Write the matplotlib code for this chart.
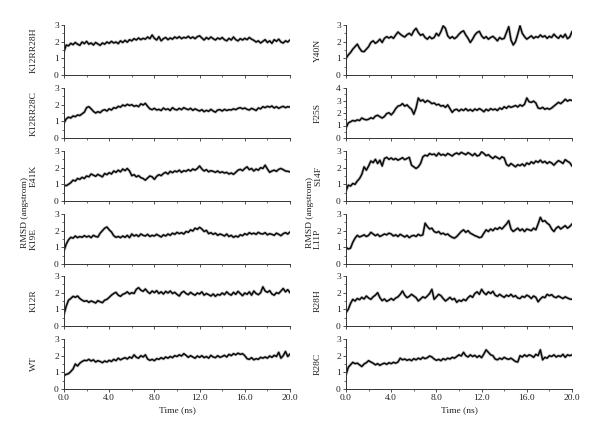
import numpy as np
import matplotlib
matplotlib.use("Agg")
import matplotlib.pyplot as plt
from matplotlib.ticker import MultipleLocator

plt.rcParams['font.family'] = ['Liberation Serif', 'DejaVu Serif']

# time axis, 0.2 ns sampling
time_ns = np.arange(101) * 0.2

# ---- left column ----
k12rr28h = [1.40, 1.80, 1.75, 1.90, 1.82, 1.95, 1.85, 1.78, 1.98, 1.88,
            2.02, 1.85, 1.92, 1.80, 1.95, 1.86, 1.78, 1.92, 1.85, 1.98,
            1.90, 2.02, 1.92, 1.98, 1.88, 2.05, 1.95, 2.08, 1.97, 2.12,
            2.05, 2.18, 2.10, 2.22, 2.12, 2.20, 2.15, 2.28, 2.18, 2.40,
            2.20, 2.10, 2.30, 2.05, 2.18, 2.25, 2.12, 2.22, 2.15, 2.28,
            2.20, 2.30, 2.18, 2.26, 2.22, 2.32, 2.20, 2.28, 2.18, 2.30,
            2.35, 2.22, 2.10, 2.25, 2.15, 2.28, 2.18, 2.10, 2.22, 2.15,
            2.25, 2.12, 2.05, 2.20, 2.10, 2.28, 2.12, 2.05, 2.18, 2.10,
            2.20, 2.12, 2.25, 2.15, 2.08, 1.98, 2.05, 1.92, 2.02, 2.12,
            1.95, 2.05, 1.90, 2.12, 2.02, 2.15, 1.98, 1.92, 2.05, 1.98,
            2.10]

k12rr28c = [0.90, 1.15, 1.25, 1.20, 1.32, 1.28, 1.38, 1.35, 1.45, 1.55,
            1.82, 1.88, 1.75, 1.60, 1.50, 1.58, 1.52, 1.65, 1.70, 1.62,
            1.75, 1.68, 1.82, 1.78, 1.90, 1.85, 1.98, 1.92, 2.02, 1.95,
            2.00, 1.90, 1.95, 1.88, 2.05, 1.98, 2.08, 1.90, 1.75, 1.70,
            1.78, 1.68, 1.72, 1.65, 1.80, 1.70, 1.75, 1.65, 1.82, 1.72,
            1.68, 1.78, 1.70, 1.82, 1.75, 1.70, 1.78, 1.66, 1.75, 1.68,
            1.62, 1.70, 1.58, 1.66, 1.60, 1.72, 1.62, 1.55, 1.68, 1.70,
            1.62, 1.72, 1.65, 1.70, 1.68, 1.75, 1.70, 1.78, 1.82, 1.75,
            1.80, 1.72, 1.68, 1.78, 1.72, 1.65, 1.80, 1.75, 1.88, 1.82,
            1.90, 1.85, 1.92, 1.80, 1.88, 1.78, 1.85, 1.90, 1.82, 1.88,
            1.85]

e41k = [0.95, 0.92, 1.00, 1.10, 1.25, 1.20, 1.35, 1.30, 1.42, 1.35,
        1.50, 1.45, 1.62, 1.55, 1.48, 1.60, 1.52, 1.45, 1.65, 1.58,
        1.70, 1.62, 1.80, 1.72, 1.85, 1.75, 1.92, 1.82, 1.95, 1.80,
        1.52, 1.58, 1.45, 1.52, 1.40, 1.35, 1.25, 1.38, 1.50, 1.45,
        1.30, 1.48, 1.58, 1.52, 1.65, 1.72, 1.62, 1.78, 1.70, 1.80,
        1.75, 1.85, 1.72, 1.82, 1.78, 1.88, 1.80, 1.92, 1.85, 1.95,
        2.10, 1.92, 1.80, 1.88, 1.75, 1.82, 1.78, 1.72, 1.80, 1.70,
        1.75, 1.68, 1.72, 1.62, 1.68, 1.60, 1.72, 1.85, 1.90, 1.82,
        1.95, 2.05, 1.88, 1.95, 1.80, 1.92, 1.85, 2.00, 1.95, 2.15,
        1.92, 1.72, 1.80, 1.85, 1.78, 1.90, 1.95, 1.88, 1.80, 1.78,
        1.75]

k19e = [0.80, 1.20, 1.45, 1.60, 1.55, 1.68, 1.58, 1.65, 1.60, 1.70,
        1.62, 1.68, 1.58, 1.72, 1.65, 1.62, 1.85, 2.00, 2.15, 2.22,
        2.05, 1.92, 1.70, 1.60, 1.65, 1.58, 1.68, 1.60, 1.72, 1.58,
        1.80, 1.68, 1.75, 1.65, 1.80, 1.72, 1.68, 1.78, 1.65, 1.72,
        1.68, 1.78, 1.70, 1.62, 1.75, 1.68, 1.80, 1.72, 1.85, 1.78,
        1.90, 1.82, 1.88, 1.80, 1.95, 1.90, 2.05, 1.98, 2.15, 2.08,
        2.20, 2.10, 1.95, 2.02, 1.82, 1.88, 1.78, 1.85, 1.72, 1.80,
        1.75, 1.68, 1.80, 1.65, 1.72, 1.60, 1.68, 1.62, 1.75, 1.70,
        1.82, 1.75, 1.88, 1.80, 1.85, 1.78, 1.90, 1.82, 1.80, 1.88,
        1.75, 1.82, 1.78, 1.72, 1.85, 1.78, 1.70, 1.82, 1.88, 1.80,
        1.92]

k12r = [0.70, 1.20, 1.55, 1.65, 1.78, 1.72, 1.80, 1.65, 1.55, 1.48,
        1.52, 1.42, 1.50, 1.45, 1.38, 1.52, 1.45, 1.40, 1.55, 1.60,
        1.72, 1.85, 1.95, 2.02, 1.85, 1.78, 1.90, 1.95, 2.05, 1.92,
        2.00, 1.95, 2.20, 2.30, 2.15, 2.08, 2.22, 2.05, 1.95, 2.10,
        2.00, 2.12, 1.95, 2.05, 1.92, 2.08, 1.98, 2.10, 1.95, 2.02,
        1.90, 1.80, 2.00, 2.08, 1.95, 1.88, 2.02, 1.92, 1.85, 1.98,
        1.92, 2.05, 1.85, 1.95, 1.88, 1.80, 1.92, 1.78, 1.90, 1.85,
        1.98, 1.88, 2.05, 1.92, 1.85, 2.02, 1.90, 2.08, 1.95, 1.82,
        1.98, 1.90, 2.05, 1.85, 2.10, 1.95, 1.88, 2.00, 2.35, 2.10,
        2.02, 2.12, 1.92, 1.85, 2.00, 1.95, 2.10, 2.25, 2.05, 2.18,
        2.00]

wt = [0.80, 0.88, 0.92, 1.05, 1.20, 1.50, 1.38, 1.55, 1.65, 1.72,
      1.70, 1.78, 1.68, 1.75, 1.62, 1.70, 1.65, 1.58, 1.68, 1.62,
      1.72, 1.65, 1.78, 1.70, 1.85, 1.75, 1.82, 1.88, 1.80, 1.92,
      1.85, 2.05, 1.90, 1.85, 2.00, 1.92, 2.05, 1.80, 1.72, 1.78,
      1.70, 1.82, 1.78, 1.88, 1.80, 1.92, 1.85, 1.95, 1.88, 2.00,
      1.95, 2.05, 1.98, 2.12, 2.02, 1.90, 2.00, 1.92, 1.85, 1.98,
      1.90, 2.00, 1.88, 1.95, 1.85, 2.02, 1.92, 1.88, 2.00, 1.90,
      1.95, 2.02, 1.92, 2.08, 2.00, 2.12, 2.05, 2.15, 2.08, 2.12,
      2.00, 1.82, 1.78, 1.88, 1.75, 1.82, 1.78, 1.90, 1.85, 1.92,
      1.85, 1.98, 1.90, 2.02, 1.95, 2.20, 1.85, 2.00, 2.25, 1.95,
      2.10]

# ---- right column ----
y40n = [1.00, 1.20, 1.35, 1.55, 1.70, 1.85, 1.60, 1.42, 1.40, 1.55,
        1.70, 1.95, 2.05, 1.90, 2.00, 2.15, 1.95, 2.20, 2.30, 2.22,
        2.30, 2.20, 2.40, 2.58, 2.45, 2.35, 2.28, 2.42, 2.50, 2.38,
        2.65, 2.80, 2.55, 2.38, 2.45, 2.25, 2.15, 2.30, 2.18, 2.25,
        2.50, 2.35, 2.60, 2.95, 2.80, 2.35, 2.20, 2.30, 2.18, 2.28,
        2.45, 2.58, 2.65, 2.40, 2.20, 1.95, 2.15, 2.40, 2.55, 2.62,
        2.35, 2.20, 2.30, 2.15, 2.25, 2.32, 2.20, 2.05, 2.25, 2.15,
        2.20, 2.55, 2.90, 2.10, 1.80, 2.00, 2.45, 2.95, 2.50, 2.30,
        2.15, 2.25, 2.35, 2.20, 2.30, 2.25, 2.40, 2.28, 2.35, 2.20,
        2.32, 2.25, 2.45, 2.30, 2.20, 2.38, 2.25, 2.45, 2.18, 2.28,
        2.60]

f25s = [0.80, 1.20, 1.30, 1.40, 1.35, 1.45, 1.40, 1.60, 1.50, 1.45,
        1.50, 1.62, 1.55, 1.75, 1.82, 1.70, 1.60, 1.72, 1.95, 2.02,
        1.85, 2.05, 2.35, 2.55, 2.60, 2.75, 2.55, 2.65, 2.45, 2.30,
        1.90, 2.40, 3.20, 2.95, 3.05, 2.85, 3.00, 2.90, 2.75, 2.80,
        2.65, 2.70, 2.55, 2.60, 2.45, 2.65, 2.35, 2.05, 2.25, 2.30,
        2.15, 2.30, 2.20, 2.35, 2.18, 2.28, 2.15, 2.32, 2.22, 2.35,
        2.25, 2.10, 2.30, 2.18, 2.35, 2.25, 2.32, 2.20, 2.40, 2.30,
        2.50, 2.38, 2.55, 2.45, 2.52, 2.60, 2.48, 2.65, 2.55, 2.70,
        3.20, 2.90, 2.85, 2.95, 2.80, 2.40, 2.35, 2.45, 2.30, 2.38,
        2.30, 2.40, 2.55, 2.70, 2.85, 2.75, 2.90, 3.10, 2.95, 3.05,
        3.00]

s14f = [0.60, 0.95, 0.90, 1.05, 1.00, 1.20, 1.35, 1.60, 2.05, 1.85,
        2.10, 2.40, 2.30, 2.50, 2.25, 2.45, 2.10, 2.55, 2.62, 2.50,
        2.58, 2.48, 2.55, 2.45, 2.52, 2.60, 2.48, 2.55, 2.62, 2.15,
        2.05, 1.95, 2.05, 2.25, 2.65, 2.75, 2.70, 2.85, 2.78, 2.82,
        2.70, 2.88, 2.75, 2.80, 2.72, 2.85, 2.78, 2.70, 2.82, 2.88,
        2.80, 2.92, 2.85, 2.78, 2.90, 2.82, 2.72, 2.85, 2.70, 2.75,
        2.95, 2.85, 2.72, 2.78, 2.65, 2.55, 2.68, 2.60, 2.52, 2.65,
        2.58, 2.20, 2.10, 2.25, 2.15, 2.05, 2.18, 2.12, 2.22, 2.10,
        2.28, 2.20, 2.35, 2.25, 2.40, 2.32, 2.45, 2.30, 2.38, 2.25,
        2.35, 2.28, 2.15, 2.30, 2.42, 2.35, 2.25, 2.48, 2.38, 2.30,
        2.10]

l11p = [1.00, 0.90, 0.95, 1.30, 1.55, 1.72, 1.62, 1.68, 1.75, 1.65,
        1.72, 1.90, 1.80, 1.70, 1.78, 1.65, 1.72, 1.80, 1.75, 1.85,
        1.80, 1.68, 1.75, 1.65, 1.78, 1.70, 1.62, 1.72, 1.58, 1.68,
        1.72, 1.65, 1.78, 1.70, 1.75, 2.45, 2.25, 2.10, 2.15, 1.95,
        1.88, 1.95, 1.80, 1.85, 1.75, 1.80, 1.68, 1.60, 1.55, 1.65,
        1.80, 1.95, 2.05, 1.90, 2.00, 1.85, 1.78, 1.70, 1.65, 1.58,
        1.62, 1.85, 2.05, 1.95, 2.10, 2.00, 2.15, 2.08, 2.20, 2.10,
        2.25, 2.40, 2.60, 2.10, 1.95, 2.05, 2.15, 2.00, 2.10, 1.95,
        2.10, 2.05, 2.00, 2.15, 2.05, 2.40, 2.80, 2.55, 2.60, 2.45,
        2.35, 2.10, 1.95, 2.15, 2.25, 2.10, 2.20, 2.30, 2.15, 2.25,
        2.40]

r28h = [0.80, 1.00, 1.35, 1.60, 1.50, 1.65, 1.58, 1.72, 1.62, 1.80,
        1.68, 1.60, 1.75, 1.85, 2.00, 1.70, 1.52, 1.62, 1.48, 1.55,
        1.65, 1.55, 1.68, 1.75, 1.90, 2.10, 1.85, 1.70, 1.78, 1.90,
        1.80, 1.70, 1.50, 1.62, 1.75, 1.68, 1.80, 1.95, 2.20, 1.60,
        1.75, 1.90, 1.82, 1.65, 1.50, 1.60, 1.72, 1.58, 1.65, 1.42,
        1.55, 1.48, 1.60, 1.52, 1.70, 1.82, 1.72, 1.95, 2.05, 1.90,
        2.20, 2.00, 1.88, 2.05, 1.95, 2.08, 1.85, 1.78, 1.90, 1.80,
        1.72, 1.85, 1.78, 1.90, 1.75, 1.82, 1.68, 1.65, 1.78, 1.72,
        1.85, 1.78, 1.65, 1.80, 1.72, 1.45, 1.62, 1.75, 1.70, 1.90,
        1.82, 1.88, 1.75, 1.70, 1.80, 1.72, 1.65, 1.75, 1.68, 1.62,
        1.60]

r28c = [0.85, 1.30, 1.45, 1.60, 1.52, 1.55, 1.45, 1.35, 1.50, 1.58,
        1.70, 1.62, 1.55, 1.45, 1.52, 1.42, 1.50, 1.55, 1.48, 1.58,
        1.52, 1.60, 1.55, 1.62, 1.85, 1.75, 1.80, 1.72, 1.78, 1.70,
        1.82, 1.75, 1.85, 1.78, 1.90, 1.82, 1.88, 1.98, 1.92, 1.80,
        1.72, 1.78, 1.70, 1.82, 1.75, 1.85, 1.80, 1.90, 1.85, 1.95,
        2.05, 1.98, 2.20, 2.00, 1.92, 2.05, 1.95, 2.02, 1.90, 2.00,
        1.88, 2.10, 2.35, 2.20, 2.05, 2.00, 1.80, 1.75, 1.85, 1.78,
        1.90, 1.82, 1.78, 1.85, 1.75, 1.65, 1.62, 2.00, 1.92, 2.05,
        1.95, 2.05, 2.00, 1.90, 2.08, 2.00, 2.35, 1.75, 1.90, 1.85,
        2.00, 1.95, 2.05, 1.92, 2.00, 1.95, 2.08, 1.90, 2.05, 2.00,
        2.05]

left_names = ['K12RR28H', 'K12RR28C', 'E41K', 'K19E', 'K12R', 'WT']
left_series = [k12rr28h, k12rr28c, e41k, k19e, k12r, wt]
right_names = ['Y40N', 'F25S', 'S14F', 'L11P', 'R28H', 'R28C']
right_series = [y40n, f25s, s14f, l11p, r28h, r28c]
right_ymax = [3, 4, 3, 3, 3, 3]

W, H = 600, 442
fig = plt.figure(figsize=(6.0, 4.42), dpi=100)
fs = 6.8

panel_top = [25, 88, 151, 214, 276, 339]
panel_h = 50


def draw_column(x_left, names, series, ymaxes, name_x, rmsd_x):
    for i, (name, vals, ymax) in enumerate(zip(names, series, ymaxes)):
        top = panel_top[i]
        ax = fig.add_axes([x_left / W, 1 - (top + panel_h) / H, 226 / W, panel_h / H])
        # grey halo under the trace to mimic the dense, fuzzy MD trajectory
        ax.plot(time_ns, vals, color='#888888', lw=2.2, alpha=0.5,
                solid_joinstyle='round', solid_capstyle='round')
        ax.plot(time_ns, vals, color='#0a0a0a', lw=1.1, solid_joinstyle='round')
        ax.set_xlim(0, 20)
        ax.set_ylim(0, ymax)
        ax.xaxis.set_major_locator(MultipleLocator(4))
        ax.xaxis.set_minor_locator(MultipleLocator(2))
        ax.yaxis.set_major_locator(MultipleLocator(1))
        ax.yaxis.set_minor_locator(MultipleLocator(0.5))
        for s in ['top', 'right']:
            ax.spines[s].set_visible(False)
        for s in ['left', 'bottom']:
            ax.spines[s].set_linewidth(0.7)
            ax.spines[s].set_color('#333333')
        ax.tick_params(which='major', direction='out', length=2.2, width=0.6,
                       labelsize=fs, pad=1.5, colors='#333333', labelcolor='#222222')
        ax.tick_params(which='minor', direction='out', length=1.4, width=0.5,
                       colors='#333333')
        if i == len(names) - 1:
            ax.set_xticks([0, 4, 8, 12, 16, 20])
            ax.set_xticklabels(['0.0', '4.0', '8.0', '12.0', '16.0', '20.0'])
            ax.set_xlabel('Time (ns)', fontsize=fs, labelpad=3, color='#222222')
        else:
            ax.tick_params(axis='x', labelbottom=False)
        ax.set_ylabel(name, fontsize=fs, color='#222222')
        ax.yaxis.set_label_coords((name_x - x_left) / 226, 0.5)
    fig.text(rmsd_x / W, 1 - 212 / H, 'RMSD (angstrom)', rotation=90,
             ha='center', va='center', fontsize=fs, color='#222222')


draw_column(64, left_names, left_series, [3] * 6, 38, 25)
draw_column(346, right_names, right_series, right_ymax, 322, 310)

fig.savefig('out.png', dpi=100, facecolor='white')
